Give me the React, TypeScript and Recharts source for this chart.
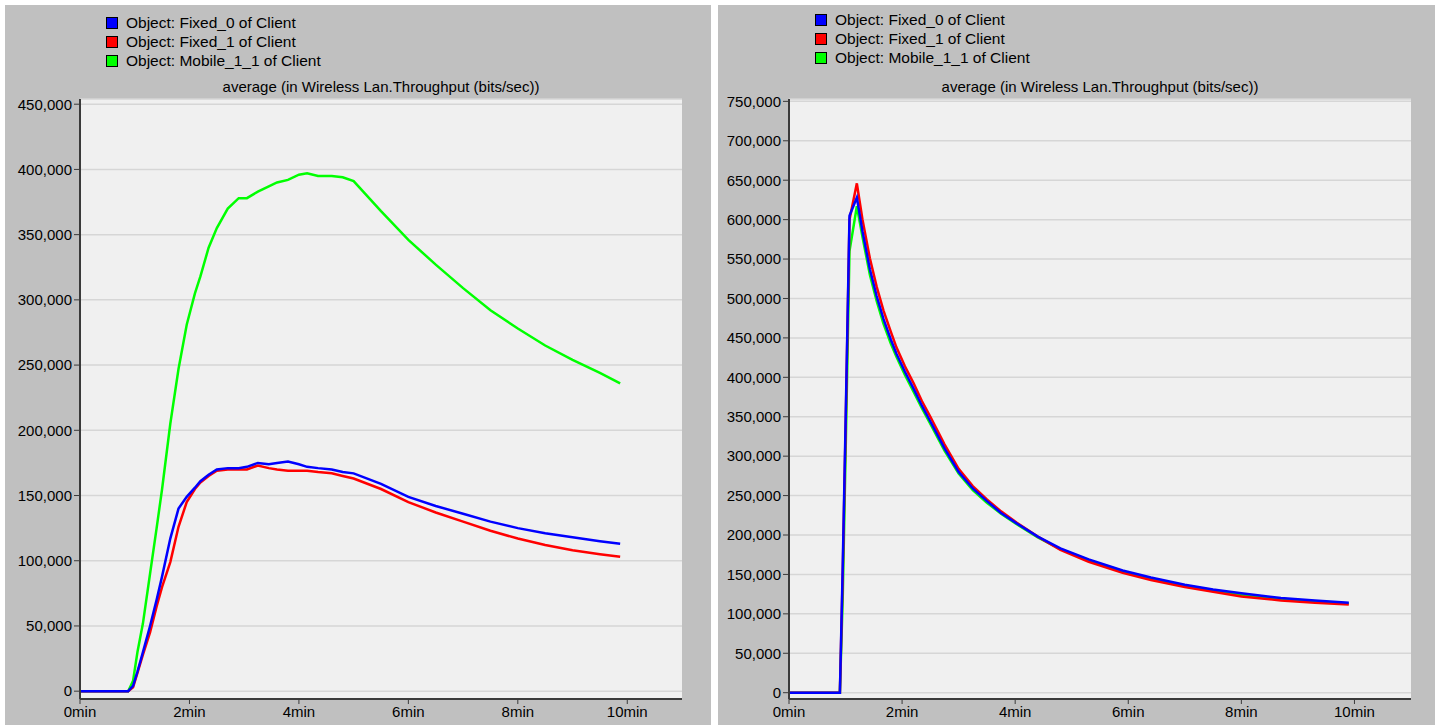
import React from 'react';
import { LineChart, Line, XAxis, YAxis, CartesianGrid } from 'recharts';

// series labels, in legend order
const seriesNames = ['Object: Fixed_0 of Client', 'Object: Fixed_1 of Client', 'Object: Mobile_1_1 of Client'];
const seriesColors = ['#0000ff', '#ff0000', '#00ff00'];
const chartTitle = 'average (in Wireless Lan.Throughput (bits/sec))';

const xTicks = [0, 2, 4, 6, 8, 10];
const leftYTicks = [0, 50000, 100000, 150000, 200000, 250000, 300000, 350000, 400000, 450000];
const rightYTicks = [0, 50000, 100000, 150000, 200000, 250000, 300000, 350000, 400000, 450000, 500000, 550000, 600000, 650000, 700000, 750000];

// left panel (minutes)
const leftTimes = [0, 0.5, 0.88, 0.97, 1.05, 1.15, 1.28, 1.4, 1.5, 1.65, 1.8, 1.95, 2.1, 2.2, 2.35, 2.5, 2.7, 2.9, 3.05, 3.25, 3.45, 3.6, 3.8, 4.0, 4.15, 4.35, 4.6, 4.8, 5.0, 5.5, 6.0, 6.5, 7.0, 7.5, 8.0, 8.5, 9.0, 9.5, 9.87];
const leftFixed0 = [0, 0, 0, 4000, 15000, 30000, 50000, 70000, 88000, 117000, 140000, 149000, 156000, 161000, 166000, 170000, 171000, 171000, 172000, 175000, 174000, 175000, 176000, 174000, 172000, 171000, 170000, 168000, 167000, 159000, 149000, 142000, 136000, 130000, 125000, 121000, 118000, 115000, 113000];
const leftFixed1 = [0, 0, 0, 3000, 14000, 28000, 45000, 65000, 80000, 99000, 126000, 145000, 155000, 160000, 165000, 169000, 170000, 170000, 170000, 173000, 171000, 170000, 169000, 169000, 169000, 168000, 167000, 165000, 163000, 155000, 145000, 137000, 130000, 123000, 117000, 112000, 108000, 105000, 103000];
const leftMobile = [0, 0, 0, 8000, 30000, 52000, 90000, 125000, 155000, 205000, 247000, 281000, 305000, 318000, 340000, 355000, 370000, 378000, 378000, 383000, 387000, 390000, 392000, 396000, 397000, 395000, 395000, 394000, 391000, 368000, 346000, 327000, 309000, 292000, 278000, 265000, 254000, 244000, 236000];

// right panel (minutes)
const rightTimes = [0, 0.5, 0.9, 0.95, 1.0, 1.07, 1.2, 1.3, 1.43, 1.55, 1.67, 1.8, 1.9, 2.05, 2.2, 2.35, 2.5, 2.75, 3.0, 3.25, 3.5, 3.75, 4.0, 4.4, 4.8, 5.3, 5.9, 6.4, 7.0, 7.5, 8.0, 8.7, 9.3, 9.9];
const rightFixed0 = [0, 0, 0, 160000, 340000, 605000, 628000, 585000, 537000, 503000, 474000, 448000, 430000, 407000, 386000, 364000, 344000, 310000, 280000, 259000, 243000, 228000, 216000, 198000, 183000, 169000, 155000, 146000, 137000, 131000, 126000, 120000, 117000, 114000];
const rightFixed1 = [0, 0, 0, 150000, 330000, 600000, 646000, 600000, 551000, 515000, 485000, 458000, 438000, 414000, 393000, 370000, 350000, 315000, 284000, 262000, 245000, 230000, 217000, 198000, 181000, 166000, 152000, 143000, 134000, 128000, 122000, 117000, 114000, 112000];
const rightMobile = [0, 0, 0, 120000, 300000, 560000, 617000, 578000, 530000, 497000, 468000, 443000, 426000, 403000, 382000, 361000, 341000, 307000, 278000, 257000, 241000, 227000, 215000, 197000, 182000, 168000, 154000, 145000, 136000, 130000, 124000, 119000, 116000, 113000];

const FONT = '"Liberation Sans", Arial, Helvetica, sans-serif';
const BORDER = '#3a3a3a';

const buildRows = (times: number[], f0: number[], f1: number[], m: number[]) =>
  times.map((t, i) => ({ t, fixed0: f0[i], fixed1: f1[i], mobile: m[i] }));

const fmt = (v: number) => v.toLocaleString('en-US');

type PanelProps = {
  left: number;
  width: number;
  yAxisWidth: number;
  rightMargin: number;
  yDomain: [number, number];
  yTicks: number[];
  rows: { t: number; fixed0: number; fixed1: number; mobile: number }[];
  legendX: number;
  legendY: number;
};

function Panel({ left, width, yAxisWidth, rightMargin, yDomain, yTicks, rows, legendX, legendY }: PanelProps) {
  const plotWidth = width - yAxisWidth - rightMargin;
  return (
    <div style={{ position: 'absolute', left, top: 5, width, height: 720, background: '#c0c0c0', fontFamily: FONT }}>
      {seriesNames.map((name, i) => (
        <div key={name} style={{ position: 'absolute', left: legendX, top: legendY + i * 19, height: 12, display: 'flex', alignItems: 'center', fontSize: 15.5, color: '#000', whiteSpace: 'nowrap' }}>
          <span style={{ display: 'inline-block', width: 10, height: 10, background: seriesColors[i], border: '1px solid #000', marginRight: 8 }} />
          {name}
        </div>
      ))}
      <div style={{ position: 'absolute', left: yAxisWidth, top: 73, width: plotWidth, textAlign: 'center', fontSize: 15, color: '#000' }}>
        {chartTitle}
      </div>
      <LineChart width={width} height={720} data={rows} margin={{ top: 94, right: rightMargin, bottom: 0, left: 0 }}>
        <CartesianGrid vertical={false} stroke="#d6d6d6" strokeWidth={1.5} fill="#f0f0f0" />
        <XAxis
          dataKey="t"
          type="number"
          domain={[0, 11]}
          ticks={xTicks}
          tickFormatter={(v: number) => `${v}min`}
          height={26}
          axisLine={{ stroke: BORDER, strokeWidth: 2 }}
          tickLine={{ stroke: BORDER }}
          tickSize={5}
          tick={{ fill: '#000', fontSize: 15, fontFamily: FONT }}
        />
        <XAxis xAxisId="top" orientation="top" type="number" domain={[0, 11]} height={0} tick={false} tickLine={false} axisLine={{ stroke: BORDER, strokeWidth: 2 }} />
        <YAxis
          type="number"
          domain={yDomain}
          ticks={yTicks}
          allowDataOverflow
          width={yAxisWidth}
          tickFormatter={fmt}
          axisLine={{ stroke: BORDER, strokeWidth: 2 }}
          tickLine={{ stroke: BORDER }}
          tickSize={6}
          tickMargin={2}
          tick={{ fill: '#000', fontSize: 15, fontFamily: FONT }}
        />
        <YAxis yAxisId="right" orientation="right" type="number" domain={yDomain} width={0} tick={false} tickLine={false} axisLine={{ stroke: BORDER, strokeWidth: 2 }} />
        <Line type="linear" dataKey="mobile" stroke={seriesColors[2]} strokeWidth={2.5} dot={false} isAnimationActive={false} />
        <Line type="linear" dataKey="fixed1" stroke={seriesColors[1]} strokeWidth={2.5} dot={false} isAnimationActive={false} />
        <Line type="linear" dataKey="fixed0" stroke={seriesColors[0]} strokeWidth={2.5} dot={false} isAnimationActive={false} />
      </LineChart>
    </div>
  );
}

export default function App() {
  const leftRows = buildRows(leftTimes, leftFixed0, leftFixed1, leftMobile);
  const rightRows = buildRows(rightTimes, rightFixed0, rightFixed1, rightMobile);
  return (
    <div style={{ position: 'relative', width: 1439, height: 725, background: '#fff', overflow: 'hidden' }}>
      <style>{'body{margin:0}'}</style>
      <Panel left={5} width={706} yAxisWidth={75} rightMargin={29} yDomain={[-6000, 454000]} yTicks={leftYTicks} rows={leftRows} legendX={101} legendY={12} />
      <Panel left={718} width={717} yAxisWidth={71} rightMargin={24} yDomain={[-8000, 753000]} yTicks={rightYTicks} rows={rightRows} legendX={97} legendY={9} />
    </div>
  );
}
